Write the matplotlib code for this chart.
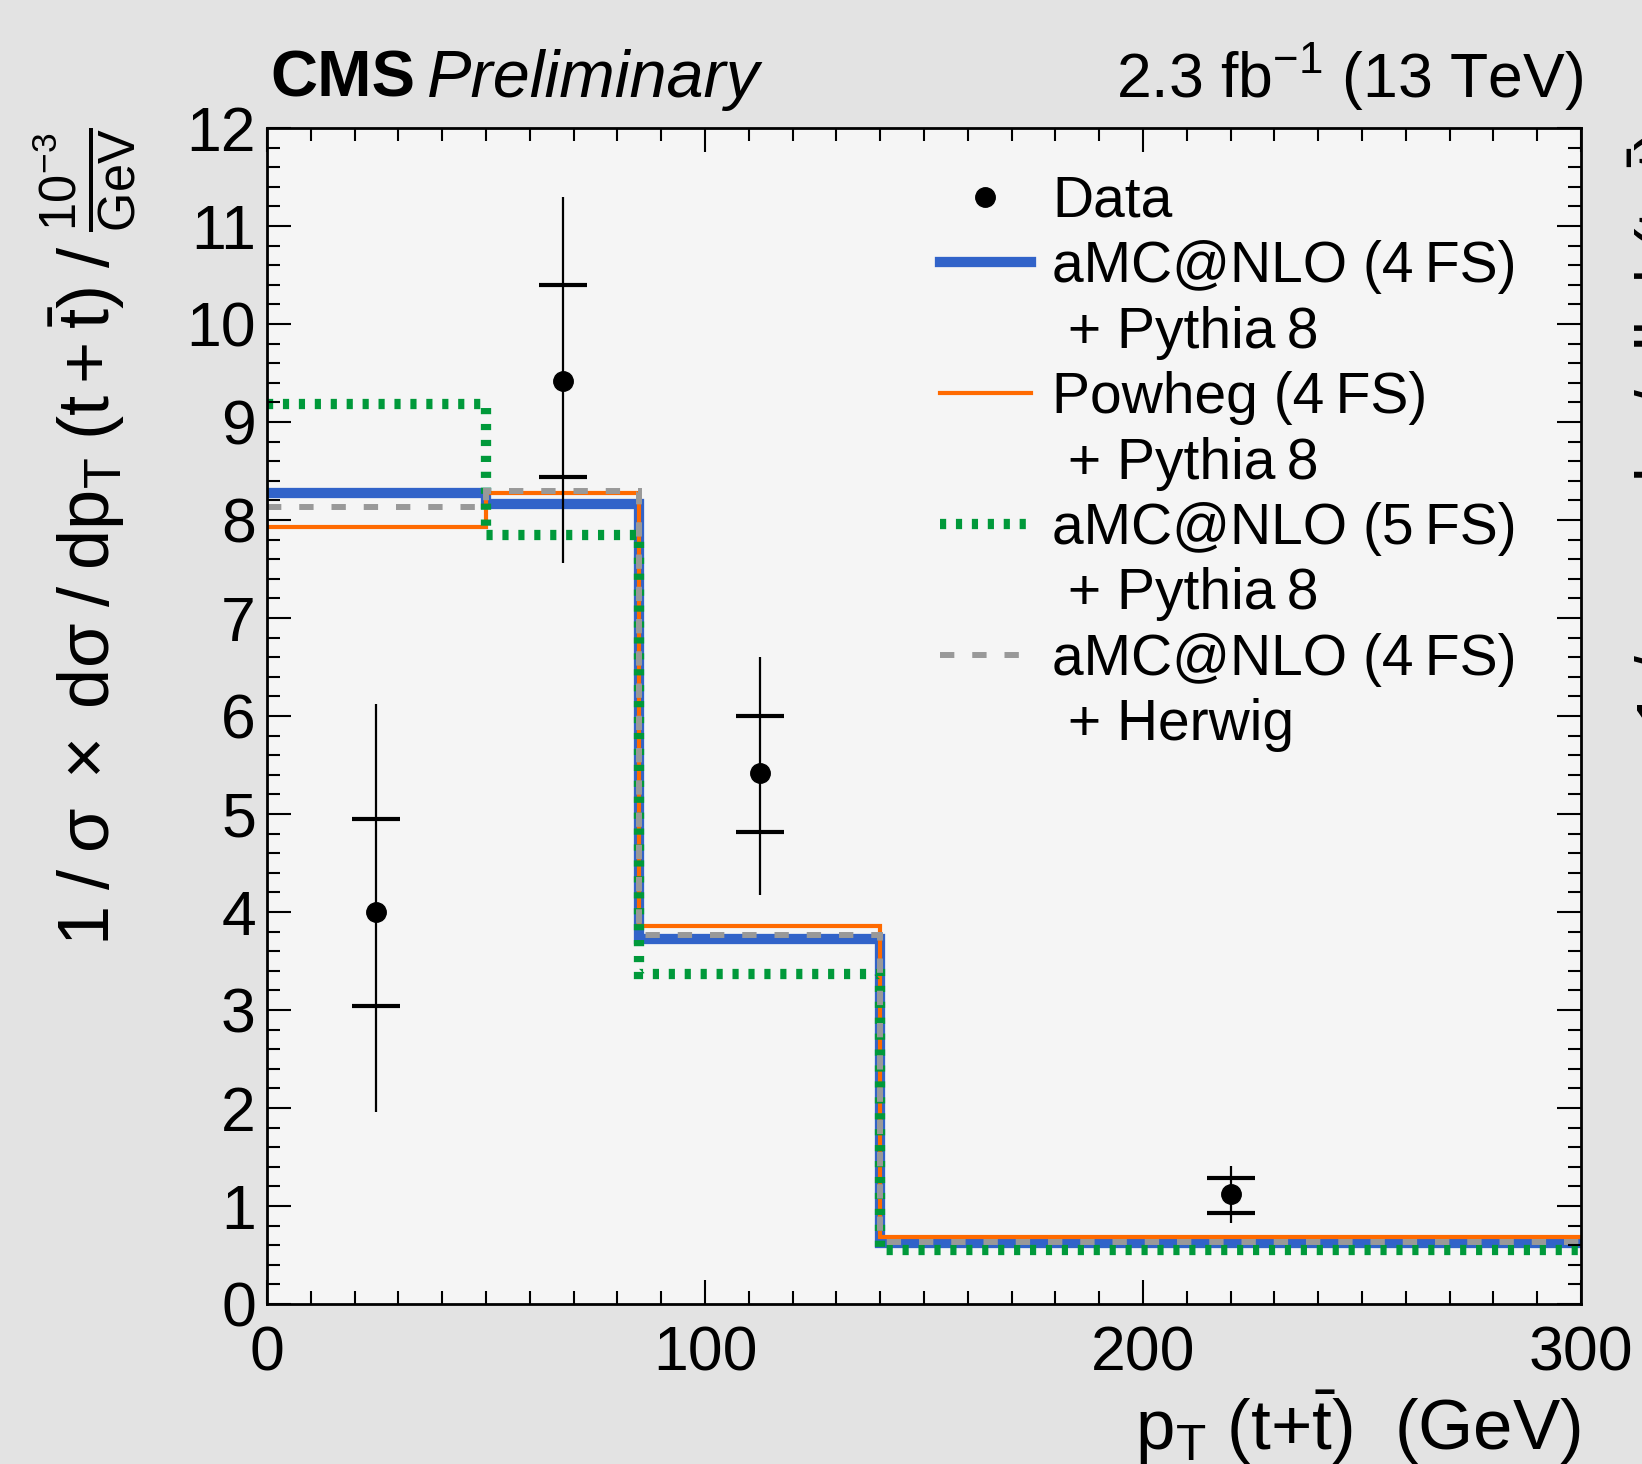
import matplotlib
matplotlib.use("Agg")
import matplotlib.pyplot as plt
from matplotlib.lines import Line2D
from matplotlib.ticker import MultipleLocator

plt.rcParams["font.family"] = ["Liberation Sans", "DejaVu Sans"]
plt.rcParams["mathtext.fontset"] = "custom"
plt.rcParams["mathtext.rm"] = "Liberation Sans"
plt.rcParams["mathtext.it"] = "Liberation Sans:italic"
plt.rcParams["mathtext.bf"] = "Liberation Sans:bold"
plt.rcParams["mathtext.default"] = "regular"

# bin edges in pT(t+tbar) [GeV]
bin_edges = [0, 50, 85, 140, 300]

# predictions (1/sigma dsigma/dpT, units of 1e-3 / GeV)
amc4fs_py8 = [8.28, 8.16, 3.72, 0.62]
powheg4fs_py8 = [7.93, 8.28, 3.86, 0.68]
amc5fs_py8 = [9.18, 7.85, 3.37, 0.55]
amc4fs_herwig = [8.13, 8.30, 3.77, 0.63]

# data points
data_x = [25, 67.5, 112.5, 220]
data_y = [4.00, 9.42, 5.42, 1.12]
stat_up = [0.95, 0.98, 0.58, 0.17]
stat_dn = [0.96, 0.98, 0.60, 0.19]
tot_up = [2.12, 1.88, 1.18, 0.29]
tot_dn = [2.04, 1.86, 1.25, 0.29]

blue = "#3163c9"
orange = "#ff6a00"
green = "#00993a"
grey = "#999999"

fig = plt.figure(figsize=(16.42, 14.64), dpi=100)
fig.patch.set_facecolor("#e3e3e3")
ax = fig.add_axes([0.1626, 0.1093, 0.8003, 0.8033])
ax.set_facecolor("#f5f5f5")

green_ls = (0, (0.6, 0.95))
grey_ls = (0, (2.4, 3.0))

ax.stairs(amc4fs_py8, bin_edges, baseline=None, color=blue, lw=7.4)
ax.stairs(powheg4fs_py8, bin_edges, baseline=None, color=orange, lw=3.0)
ax.stairs(amc5fs_py8, bin_edges, baseline=None, color=green, lw=7.4, linestyle=green_ls)
ax.stairs(amc4fs_herwig, bin_edges, baseline=None, color=grey, lw=4.3, linestyle=grey_ls)

# total uncertainty (line) and statistical (caps)
ax.errorbar(data_x, data_y, yerr=[tot_dn, tot_up], fmt="o", color="black",
            ms=14, elinewidth=1.6, capsize=0, zorder=5)
ax.errorbar(data_x, data_y, yerr=[stat_dn, stat_up], fmt="none", ecolor="black",
            elinewidth=0, capsize=17, capthick=3, zorder=5)

ax.set_xlim(0, 300)
ax.set_ylim(0, 12)
ax.xaxis.set_major_locator(MultipleLocator(100))
ax.xaxis.set_minor_locator(MultipleLocator(10))
ax.yaxis.set_major_locator(MultipleLocator(1))
ax.yaxis.set_minor_locator(MultipleLocator(0.2))
ax.tick_params(which="both", direction="in", top=True, right=True, width=1.5)
ax.tick_params(which="major", length=17)
ax.tick_params(which="minor", length=9.5)
ax.tick_params(axis="x", which="major", labelsize=45, pad=15)
ax.tick_params(axis="y", which="major", labelsize=45, pad=8)
for sp in ax.spines.values():
    sp.set_linewidth(2.0)

ax.set_xlabel(r"$p_{T}\ (t{+}\bar{t})$  (GeV)", fontsize=51, loc="right")
ax.xaxis.set_label_coords(1.0, -0.072)
ylab = r"$1\;/\;\sigma\;\times\;d\sigma\;/\;dp_{T}\;(t+\bar{t})\;/\;\frac{10^{-3}}{GeV}$"
ax.set_ylabel(ylab, fontsize=52, loc="top")
ax.yaxis.set_label_coords(-0.098, 1.0)

fig.text(0.1645, 0.934, "CMS", fontsize=47, fontweight="bold", va="baseline")
fig.text(0.260, 0.934, "Preliminary", fontsize=48, style="italic", va="baseline")
fig.text(0.9640, 0.934, r"2.3 fb$^{-1}$ (13 TeV)", fontsize=45, ha="right", va="baseline")

# y label of the neighbouring panel, cut by the right edge
fig.text(0.9905, 0.911, r"$1\;/\;\sigma\;\times\;d\sigma\;/\;d|y|\;(t{+}\bar{t})$",
         fontsize=49, rotation=90, ha="right", va="top", rotation_mode="anchor")

handles = [
    Line2D([], [], marker="o", ls="none", color="black", ms=14),
    Line2D([], [], color=blue, lw=7.4),
    Line2D([], [], color="none"),
    Line2D([], [], color=orange, lw=3.0),
    Line2D([], [], color="none"),
    Line2D([], [], color=green, lw=7.4, ls=green_ls),
    Line2D([], [], color="none"),
    Line2D([], [], color=grey, lw=4.3, ls=grey_ls),
    Line2D([], [], color="none"),
]
labels = ["Data", "aMC@NLO (4\u2009FS)", " + Pythia\u20098", "Powheg (4\u2009FS)", " + Pythia\u20098",
          "aMC@NLO (5\u2009FS)", " + Pythia\u20098", "aMC@NLO (4\u2009FS)", " + Herwig"]
ax.legend(handles, labels, loc="upper left", bbox_to_anchor=(0.512, 0.960),
          frameon=False, fontsize=41, handlelength=1.60, handletextpad=0.37,
          labelspacing=0.20, borderpad=0, borderaxespad=0, numpoints=1)

fig.savefig("out.png", dpi=100, facecolor=fig.get_facecolor())
